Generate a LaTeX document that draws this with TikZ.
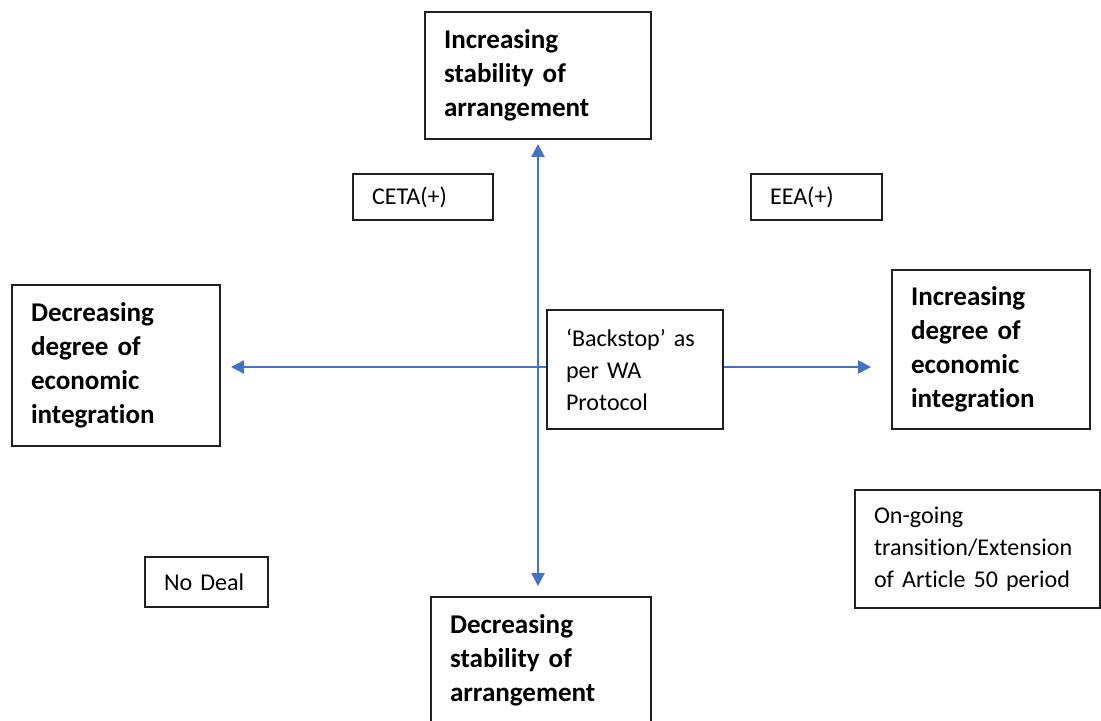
\documentclass[tikz,border=0pt]{standalone}
\usepackage{fontspec}
\setmainfont{Carlito}
\usetikzlibrary{arrows.meta}
\definecolor{axisblue}{HTML}{4472C4}
\definecolor{boxline}{HTML}{202020}
% break the t-i ligature of the font
\newcommand{\tbreak}{t\kern0pt}

\begin{document}
\begin{tikzpicture}[x=0.02cm,y=-0.02cm,
    axisbox/.style={draw=boxline, line width=1.1pt, fill=white, align=left,
      inner xsep=0.38cm, font=\bfseries\fontsize{15.4}{19.4}\selectfont},
    optbox/.style={draw=boxline, line width=1.1pt, fill=white, align=left,
      inner xsep=0.38cm, font=\fontsize{13.7}{18.2}\selectfont},
    axis/.style={draw=axisblue, line width=1.4pt,
      -{Triangle[length=0.26cm,width=0.26cm]}}]

    \useasboundingbox (0,0) rectangle (1101,720);

    % Axis boxes
    \node[axisbox, text width=3.76cm, minimum width=4.52cm, minimum height=2.54cm]
      (top) at (538,75.5) {Increasing\\stability of\\arrangement};
    \node[axisbox, text width=3.64cm, minimum width=4.4cm, minimum height=2.54cm]
      (bottom) at (541,660.5) {Decreasing\\stability of\\arrangement};
    \node[axisbox, text width=3.4cm, minimum width=4.16cm, minimum height=3.22cm]
      (left) at (116,365.5) {Decreasing\\degree of\\economic\\integra\tbreak ion};
    \node[axisbox, text width=3.2cm, minimum width=3.96cm, minimum height=3.18cm]
      (right) at (991,349.5) {Increasing\\degree of\\economic\\integra\tbreak ion};

    % Axes
    \coordinate (centre) at (538,367);
    \draw[axis, shorten >=0.08cm] (centre) -- (centre |- top.south);
    \draw[axis, shorten >=0.2cm] (centre) -- (centre |- bottom.north);
    \draw[axis, shorten >=0.2cm] (centre) -- (centre -| left.east);
    \draw[axis, shorten >=0.4cm] (centre) -- (centre -| right.west);

    % Options
    \node[optbox, text width=2.04cm, minimum width=2.8cm, minimum height=0.92cm]
      (ceta) at (423,197) {CETA(+)};
    \node[optbox, text width=1.86cm, minimum width=2.62cm, minimum height=0.92cm]
      (eea) at (816.5,197) {EEA(+)};
    \node[optbox, text width=2.76cm, minimum width=3.52cm, minimum height=2.38cm]
      (backstop) at (635,369.5) {‘Backstop’ as\\per WA\\Protocol};
    \node[optbox, text width=4.14cm, minimum width=4.9cm, minimum height=2.36cm]
      (ongoing) at (977.5,549) {On-going\\transi\tbreak ion/Extension\\of Ar\tbreak icle 50 period};
    \node[optbox, text width=1.7cm, minimum width=2.46cm, minimum height=1.0cm]
      (nodeal) at (206.5,582) {No Deal};
\end{tikzpicture}
\end{document}
